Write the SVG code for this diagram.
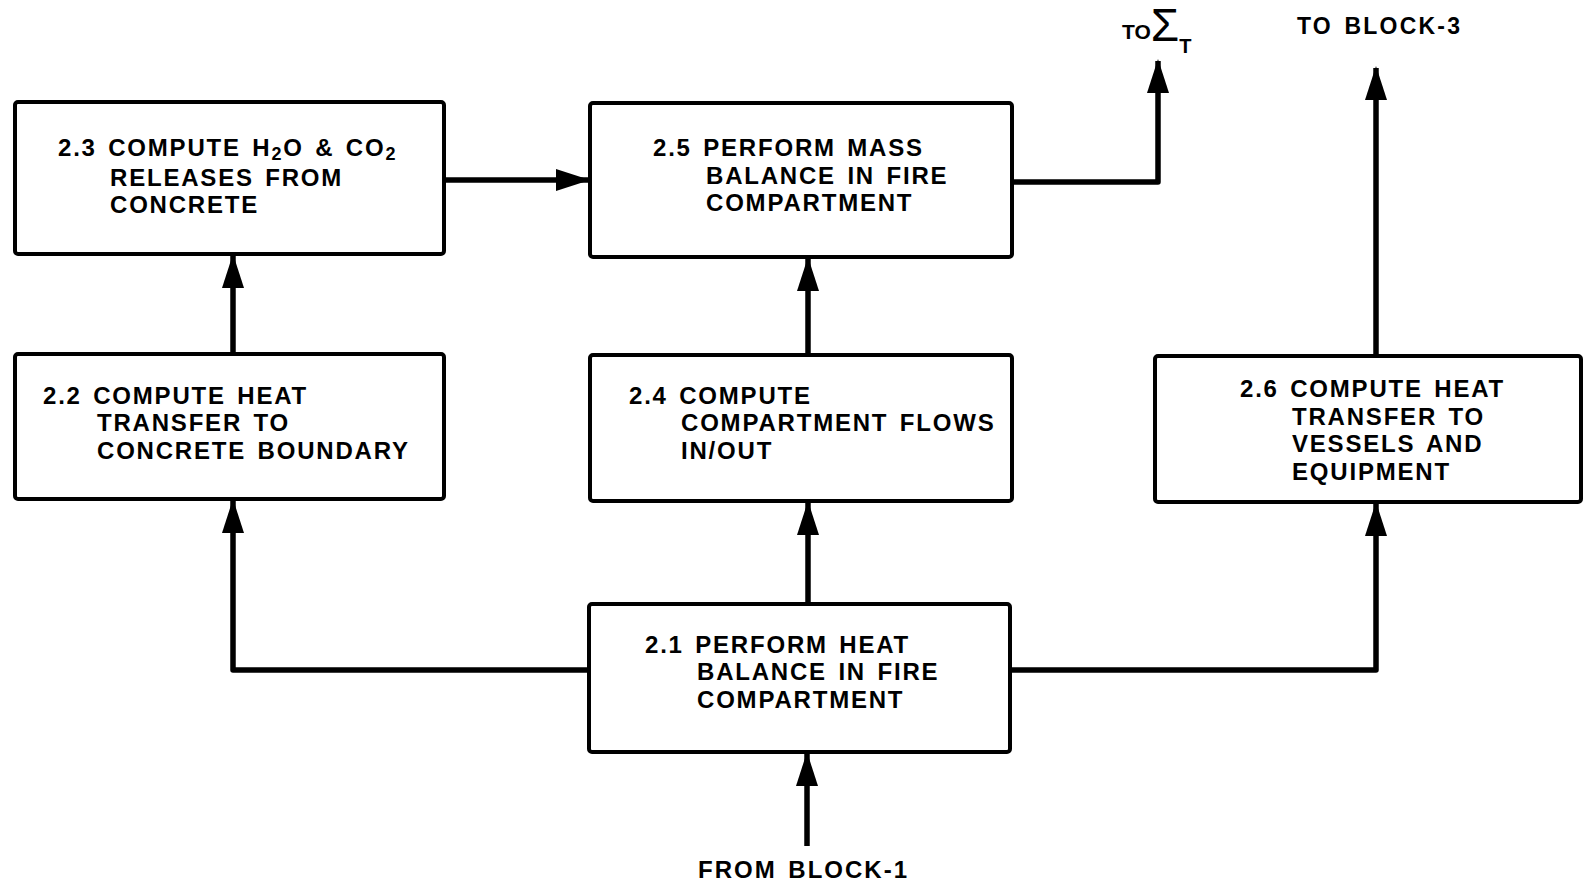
<svg xmlns="http://www.w3.org/2000/svg" width="1583" height="887" viewBox="0 0 1583 887">
<style>
.box{fill:#fff;stroke:#000;stroke-width:4}
.t{font-family:"Liberation Sans",Arial,sans-serif;font-weight:bold;font-size:24px;letter-spacing:1.8px;word-spacing:3px;fill:#000}
.c{fill:none;stroke:#000;stroke-width:5.5;stroke-linejoin:round}
.sub{font-size:18px}
</style>
<defs>
<marker id="ah" markerUnits="userSpaceOnUse" markerWidth="34" markerHeight="22" refX="32" refY="11" orient="auto">
<path d="M0,0 L34,11 L0,22 Z" fill="#000"/>
</marker>
</defs>
<rect width="1583" height="887" fill="#fff"/>
<g id="connectors">
<path class="c" d="M444,180 L588,180" marker-end="url(#ah)"/>
<path class="c" d="M233,354 L233,256" marker-end="url(#ah)"/>
<path class="c" d="M808,355 L808,259" marker-end="url(#ah)"/>
<path class="c" d="M808,604 L808,503" marker-end="url(#ah)"/>
<path class="c" d="M589,670 L233,670 L233,501" marker-end="url(#ah)"/>
<path class="c" d="M1010,670 L1376,670 L1376,504" marker-end="url(#ah)"/>
<path class="c" d="M1012,182 L1158,182 L1158,61" marker-end="url(#ah)"/>
<path class="c" d="M1376,356 L1376,68" marker-end="url(#ah)"/>
<path class="c" d="M807,846 L807,754" marker-end="url(#ah)"/>
</g>
<g id="n23">
<rect class="box" x="15" y="102" width="429" height="152" rx="3"/>
<text class="t" x="58" y="156">2.3 COMPUTE H<tspan class="sub" dy="4">2</tspan><tspan dy="-4">O &amp; CO</tspan><tspan class="sub" dy="4">2</tspan></text>
<text class="t" x="110" y="186">RELEASES FROM</text>
<text class="t" x="110" y="213">CONCRETE</text>
</g>
<g id="n25">
<rect class="box" x="590" y="103" width="422" height="154" rx="3"/>
<text class="t" x="653" y="156">2.5 PERFORM MASS</text>
<text class="t" x="706" y="184">BALANCE IN FIRE</text>
<text class="t" x="706" y="211">COMPARTMENT</text>
</g>
<g id="n22">
<rect class="box" x="15" y="354" width="429" height="145" rx="3"/>
<text class="t" x="43" y="404">2.2 COMPUTE HEAT</text>
<text class="t" x="97" y="431">TRANSFER TO</text>
<text class="t" x="97" y="459">CONCRETE BOUNDARY</text>
</g>
<g id="n24">
<rect class="box" x="590" y="355" width="422" height="146" rx="3"/>
<text class="t" x="629" y="404">2.4 COMPUTE</text>
<text class="t" x="681" y="431">COMPARTMENT FLOWS</text>
<text class="t" x="681" y="459">IN/OUT</text>
</g>
<g id="n26">
<rect class="box" x="1155" y="356" width="426" height="146" rx="3"/>
<text class="t" x="1240" y="397">2.6 COMPUTE HEAT</text>
<text class="t" x="1292" y="425">TRANSFER TO</text>
<text class="t" x="1292" y="452">VESSELS AND</text>
<text class="t" x="1292" y="480">EQUIPMENT</text>
</g>
<g id="n21">
<rect class="box" x="589" y="604" width="421" height="148" rx="3"/>
<text class="t" x="645" y="653">2.1 PERFORM HEAT</text>
<text class="t" x="697" y="680">BALANCE IN FIRE</text>
<text class="t" x="697" y="708">COMPARTMENT</text>
</g>
<g id="labels">
<text class="t" x="1122" y="39" style="font-size:21px;letter-spacing:0">TO<tspan style="font-size:46px;font-weight:normal" dy="2">Σ</tspan><tspan dy="12" style="font-size:20px">T</tspan></text>
<text class="t" x="1297" y="34" style="font-size:23px;letter-spacing:2.2px">TO BLOCK-3</text>
<text class="t" x="698" y="878" style="font-size:24px;letter-spacing:2px">FROM BLOCK-1</text>
</g>
</svg>
